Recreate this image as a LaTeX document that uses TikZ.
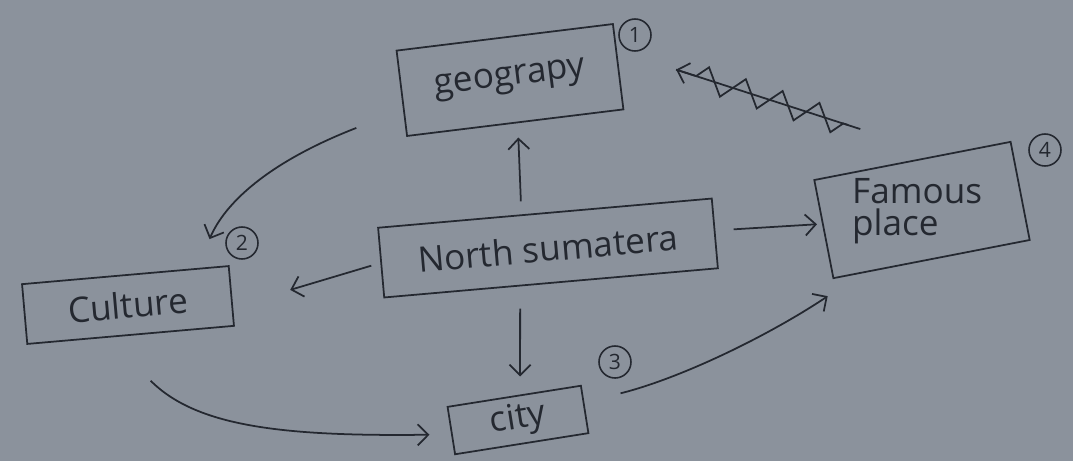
\documentclass[tikz,border=0pt]{standalone}
\usepackage{fontspec}
\setmainfont{Open Sans}
\usetikzlibrary{arrows.meta,decorations.pathmorphing}
\definecolor{paper}{RGB}{139,146,156}
\definecolor{ink}{RGB}{36,40,48}

\begin{document}
\begin{tikzpicture}[x=0.02cm,y=-0.02cm,
	box/.style={draw=ink,line width=1pt,inner sep=0pt,text=ink,font=\fontsize{20}{24}\selectfont},
	num/.style={draw=ink,circle,line width=0.9pt,minimum size=0.64cm,inner sep=0pt,text=ink,font=\fontsize{12}{12}\selectfont},
	arr/.style={draw=ink,line width=1pt,-{Straight Barb[length=6pt,width=12pt]}}]
	\fill[paper] (0,0) rectangle (1073,461);

	\node[box,minimum width=4.36cm,minimum height=1.72cm,rotate=7] (geo) at (510,80) {geograpy};
	\node[box,minimum width=6.7cm,minimum height=1.4cm,rotate=5] (north) at (548,248) {North sumatera};
	\node[box,minimum width=4.15cm,minimum height=1.2cm,rotate=5] (culture) at (128,305) {Culture};
	\node[box,minimum width=2.7cm,minimum height=0.96cm,rotate=9] (city) at (518,420) {city};
	\node[box,text width=3.6cm,inner xsep=0.2cm,minimum height=2cm,align=left,rotate=11] (famous) at (922,210)
		{\hspace{0.3cm}\rotatebox{-11}{\shortstack[l]{Famous\\place}}};

	\node[num] (n1) at (635,35) {1};
	\node[num] (n2) at (242,243) {2};
	\node[num] (n3) at (615,362) {3};
	\node[num] (n4) at (1045,150) {4};

	\draw[arr] ([shift={(-24,-11)}]north.north) -- ([shift={(3,14)}]geo.south);
	\draw[arr] ([shift={(-9,3)}]north.west) -- ([shift={(58,-6)}]culture.east);
	\draw[arr] ([shift={(18,-4)}]north.east) -- ([shift={(-6,-5)}]famous.west);
	\draw[arr] ([shift={(-31,25)}]north.south) -- ([shift={(6,-19)}]city.north);
	\draw[arr] ([shift={(-50,-9)}]geo.south west) .. controls +(-90,35) and +(15,-35) .. ([shift={(-20,-26)}]culture.north east);
	\draw[arr] ([shift={(20,45)}]culture.south) .. controls +(45,45) and +(-150,2) .. ([shift={(-21,4)}]city.west);
	\draw[arr] ([shift={(35,-16)}]city.east) .. controls +(60,-15) and +(-60,40) .. ([shift={(-5,17)}]famous.south west);
	\draw[arr] ([shift={(-52,-31)}]famous.north) -- ([shift={(57,3)}]geo.east);
	\draw[ink,line width=1pt,decorate,decoration={zigzag,amplitude=7pt,segment length=22pt,pre length=12pt,post length=2pt}]
		([shift={(57,3)}]geo.east) -- ([shift={(-64,-35)}]famous.north);
\end{tikzpicture}
\end{document}
